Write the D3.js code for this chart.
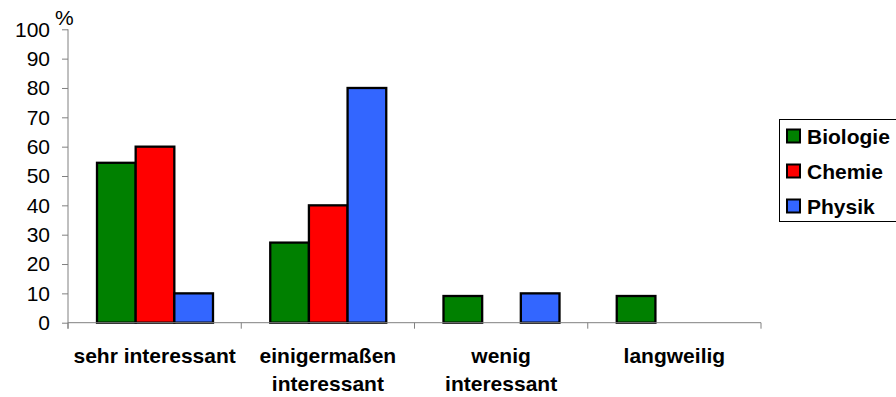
<!DOCTYPE html>
<html>
<head>
<meta charset="utf-8">
<script src="https://cdn.jsdelivr.net/npm/d3@7"></script>
<style>
  html, body { margin: 0; padding: 0; background: #fff; }
  svg { display: block; font-family: "Liberation Sans", Arial, sans-serif; }
</style>
</head>
<body>
<svg id="chart" width="896" height="397"></svg>
<script>
// Interest in school subjects (percent of answers)
const categories = [["sehr interessant"], ["einigermaßen", "interessant"], ["wenig", "interessant"], ["langweilig"]];
const seriesNames = ["Biologie", "Chemie", "Physik"];
const seriesColors = ["#008000", "#FF0000", "#3366FF"];
const biologie = [54.5, 27.3, 9.1, 9.1];
const chemie = [60, 40, 0, 0];
const physik = [10, 80, 10, 0];
const yTicks = [0, 10, 20, 30, 40, 50, 60, 70, 80, 90, 100];

const seriesValues = [biologie, chemie, physik];
const svg = d3.select("#chart");

const plot = { left: 68, right: 761, top: 29.3, bottom: 322.7 };

const x0 = d3.scaleBand()
  .domain(d3.range(categories.length))
  .range([plot.left, plot.right])
  .padding(0);

const x1 = d3.scaleBand()
  .domain(d3.range(seriesNames.length))
  .range([29, 145])
  .padding(0);

const y = d3.scaleLinear().domain([0, 100]).range([plot.bottom, plot.top]);

const axisColor = "#808080";

// bars
const groups = svg.append("g").selectAll("g")
  .data(categories.map((c, i) => i))
  .join("g")
  .attr("transform", i => `translate(${x0(i)},0)`);

groups.selectAll("rect")
  .data(i => seriesValues.map((vals, s) => ({ s, v: vals[i] })).filter(d => d.v > 0))
  .join("rect")
  .attr("x", d => x1(d.s))
  .attr("width", x1.bandwidth())
  .attr("y", d => y(d.v))
  .attr("height", d => y(0) - y(d.v))
  .attr("fill", d => seriesColors[d.s])
  .attr("stroke", "#000")
  .attr("stroke-width", 2.3);

// y axis
const yAxis = svg.append("g")
  .attr("transform", `translate(${plot.left},0)`)
  .call(d3.axisLeft(y).tickValues(yTicks).tickSize(6).tickSizeOuter(0).tickPadding(12));
yAxis.select(".domain").attr("stroke", axisColor).attr("d", `M0,${y(100)}V${y(0) + 6}`);
yAxis.selectAll(".tick line").attr("stroke", axisColor);
yAxis.selectAll(".tick text")
  .attr("fill", "#000")
  .style("font-size", "21px")
  .style("font-family", "'Liberation Sans', Arial, sans-serif");

// x axis
const xAxisG = svg.append("g").attr("transform", `translate(0,${plot.bottom})`);
xAxisG.append("line")
  .attr("x1", plot.left).attr("x2", plot.right)
  .attr("stroke", axisColor);
const boundaries = d3.range(categories.length + 1).map(i => i < categories.length ? x0(i) : plot.right);
xAxisG.selectAll("line.tick")
  .data(boundaries)
  .join("line")
  .attr("class", "tick")
  .attr("x1", d => d).attr("x2", d => d)
  .attr("y1", 0).attr("y2", 6)
  .attr("stroke", axisColor);

// category labels
const labels = svg.append("g").selectAll("text")
  .data(categories)
  .join("text")
  .attr("x", (c, i) => x0(i) + x0.bandwidth() / 2)
  .attr("y", 363)
  .attr("text-anchor", "middle")
  .style("font-size", "21px")
  .style("font-weight", "bold");
labels.selectAll("tspan")
  .data(c => c)
  .join("tspan")
  .attr("x", function () { return this.parentNode.getAttribute("x"); })
  .attr("dy", (d, j) => j === 0 ? 0 : 28)
  .text(d => d);

// unit label
svg.append("text")
  .attr("x", 55).attr("y", 25)
  .style("font-size", "21px")
  .text("%");

// legend
const legend = svg.append("g");
legend.append("rect")
  .attr("x", 779.5).attr("y", 119.5)
  .attr("width", 130).attr("height", 102)
  .attr("fill", "#fff").attr("stroke", "#000").attr("stroke-width", 1);
const items = legend.selectAll("g.item")
  .data(seriesNames)
  .join("g")
  .attr("class", "item")
  .attr("transform", (d, i) => `translate(787,${136 + i * 35})`);
items.append("rect")
  .attr("x", 0).attr("y", -6.5)
  .attr("width", 13).attr("height", 13)
  .attr("fill", (d, i) => seriesColors[i])
  .attr("stroke", "#000").attr("stroke-width", 2);
items.append("text")
  .attr("x", 20).attr("y", 7.5)
  .style("font-size", "21px")
  .style("font-weight", "bold")
  .text(d => d);
</script>
</body>
</html>
